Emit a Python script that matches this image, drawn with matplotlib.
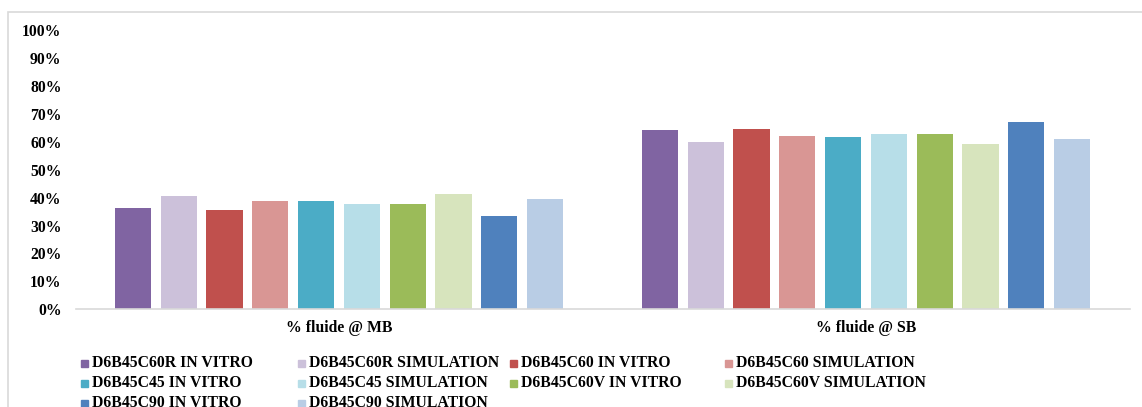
import numpy as np
import matplotlib
matplotlib.use("Agg")
import matplotlib.pyplot as plt
from matplotlib.patches import Rectangle
from matplotlib.ticker import PercentFormatter

plt.rcParams['font.family'] = ['Liberation Serif', 'DejaVu Serif']
plt.rcParams['font.weight'] = 'bold'

categories = ['% fluide @ MB', '% fluide @ SB']
series = ['D6B45C60R IN VITRO', 'D6B45C60R SIMULATION',
          'D6B45C60 IN VITRO', 'D6B45C60 SIMULATION',
          'D6B45C45 IN VITRO', 'D6B45C45 SIMULATION',
          'D6B45C60V IN VITRO', 'D6B45C60V SIMULATION',
          'D6B45C90 IN VITRO', 'D6B45C90 SIMULATION']
colors = ['#8064A2', '#CCC1DA', '#C0504D', '#D99694', '#4BACC6',
          '#B7DEE8', '#9BBB59', '#D7E4BD', '#4F81BD', '#B9CDE5']
# values in percent, [MB, SB]
values = [[36.3, 64.1], [40.6, 59.8], [35.7, 64.6], [38.8, 62.0],
          [38.8, 61.6], [37.6, 62.8], [37.8, 62.8], [41.2, 59.2],
          [33.3, 67.1], [39.6, 60.8]]

W, H = 1142, 407
fig = plt.figure(figsize=(W / 100, H / 100), dpi=100)
ax = fig.add_axes([75.5 / W, 1 - 309.3 / H, (1129.5 - 75.5) / W, (309.3 - 30) / H])

x = np.arange(len(categories))
pitch = 0.0869
width = 0.069
for i, (name, vals) in enumerate(zip(series, values)):
    offs = (i - 4.5) * pitch
    ax.bar(x + offs, np.array(vals) / 100, width=width, color=colors[i], label=name)

ax.set_xlim(-0.5, 1.5)
ax.set_ylim(0, 1)
ax.set_yticks(np.arange(0, 1.01, 0.1))
ax.yaxis.set_major_formatter(PercentFormatter(1.0, decimals=0))
ax.set_xticks(x)
ax.set_xticklabels(categories)
ax.tick_params(axis='y', length=0, pad=10, labelsize=11.3)
ax.tick_params(axis='x', length=0, pad=8, labelsize=11.3)
for s in ['top', 'right', 'left']:
    ax.spines[s].set_visible(False)
ax.spines['bottom'].set_color('#D9D9D9')
ax.spines['bottom'].set_linewidth(1.2)

# outer chart frame
fig.patches.append(Rectangle((8 / W, -0.1), 1.2, 1 - 11.5 / H + 0.1,
                             transform=fig.transFigure, fill=False,
                             edgecolor='#D9D9D9', linewidth=1.2))

# legend laid out like the Excel one
col_x = [81, 298, 510, 725]
row_y = [363, 383, 403]
for i, name in enumerate(series):
    cx = col_x[i % 4]
    cy = row_y[i // 4]
    fig.patches.append(Rectangle((cx / W, 1 - (cy + 3.5) / H), 7 / W, 7 / H,
                                 transform=fig.transFigure, color=colors[i]))
    fig.text((cx + 11) / W, 1 - cy / H, name, fontsize=11.3, va='center', ha='left')

fig.savefig('out.png', dpi=100)
